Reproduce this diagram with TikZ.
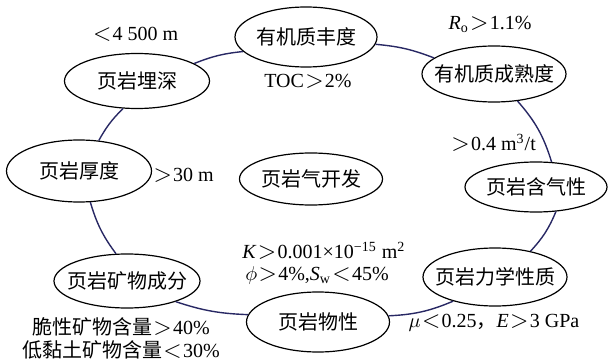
\documentclass[tikz,border=0pt]{standalone}
\usepackage{fontspec}
\usepackage{graphicx}
\setmainfont{Liberation Serif}
\newfontfamily\cjk{Noto Sans CJK SC}
\usetikzlibrary{shapes.geometric}
\newcommand\zw[1]{\makebox[0pt]{#1}}
\newcommand\gt{\makebox[10.5pt]{\scalebox{1.18}{$>$}}}
\newcommand\lt{\makebox[10.5pt]{\scalebox{1.18}{$<$}}}
\begin{document}
\begin{tikzpicture}[x=0.5pt,y=-0.5pt,
  oval/.style={ellipse,draw=black,line width=0.6pt,inner sep=0pt,font=\cjk\fontsize{10pt}{12pt}\selectfont},
  conn/.style={draw={rgb,255:red,40;green,40;blue,100},line width=0.7pt},
  lbl/.style={inner sep=0pt,font=\fontsize{10pt}{12pt}\selectfont}]
\useasboundingbox (0,0) rectangle (609,363);
% ellipses
\node[oval,minimum width=71pt,minimum height=30pt] (feng) at (306,37) {\zw{有机质丰度}};
\node[oval,minimum width=72pt,minimum height=28pt] (shu) at (494,74) {\zw{有机质成熟度}};
\node[oval,minimum width=71pt,minimum height=25pt] (qi) at (536,187) {\zw{页岩含气性}};
\node[oval,minimum width=72pt,minimum height=29pt] (li) at (495,277) {\zw{页岩力学性质}};
\node[oval,minimum width=71.5pt,minimum height=30pt] (wu) at (318,322) {\zw{页岩物性}};
\node[oval,minimum width=73pt,minimum height=27pt] (kuang) at (127,281) {\zw{页岩矿物成分}};
\node[oval,minimum width=72.5pt,minimum height=31pt] (hou) at (79,171) {\zw{页岩厚度}};
\node[oval,minimum width=72.5pt,minimum height=27.5pt] (mai) at (137,81) {\zw{页岩埋深}};
\node[oval,minimum width=71.5pt,minimum height=26pt] (dev) at (311,179) {\zw{页岩气开发}};
% connectors
\draw[conn] (mai.17) to[bend left=8] (feng.193);
\draw[conn] (feng.-6) to[bend left=8] (shu.165);
\draw[conn] (shu.-49) to[bend left=12] (qi.58);
\draw[conn] (qi.-51) to[bend left=10] (li.36);
\draw[conn] (li.210) to[bend left=10] (wu.5);
\draw[conn] (wu.174) to[bend left=8] (kuang.-23);
\draw[conn] (kuang.112) to[bend left=10] (hou.-70);
\draw[conn] (hou.57) to[bend left=8] (mai.243);
% labels
\node[lbl] (t1) at (135,34) {\lt 4 500 m};
\node[lbl] (t2) at (308,81) {TOC\gt 2\%};
\node[lbl] (t3) at (490,24) {\textit{R}\textsubscript{o}\gt 1.1\%};
\node[lbl] (t4) at (493,143) {\gt 0.4 m\textsuperscript{3}/t};
\node[lbl] (t5) at (183,175) {\gt 30 m};
\node[lbl,anchor=west,align=left,font=\fontsize{10pt}{11pt}\selectfont] (t6) at (242,263)
  {\textit{K}\gt 0.001×10\textsuperscript{−15} m\textsuperscript{2}\\\hspace{1.5pt}$\phi$\gt 4\%,\textit{S}\textsubscript{w}\lt 45\%};
\node[lbl] (t8) at (494,323) {$\mu$\lt 0.25{\cjk ，}\textit{E}\gt 3 GPa};
\node[lbl,align=center,font=\fontsize{10pt}{11.5pt}\selectfont] (t9) at (121,338)
  {{\cjk 脆性矿物含量}\gt 40\%\\{\cjk 低黏土矿物含量}\lt 30\%};
\end{tikzpicture}
\end{document}
